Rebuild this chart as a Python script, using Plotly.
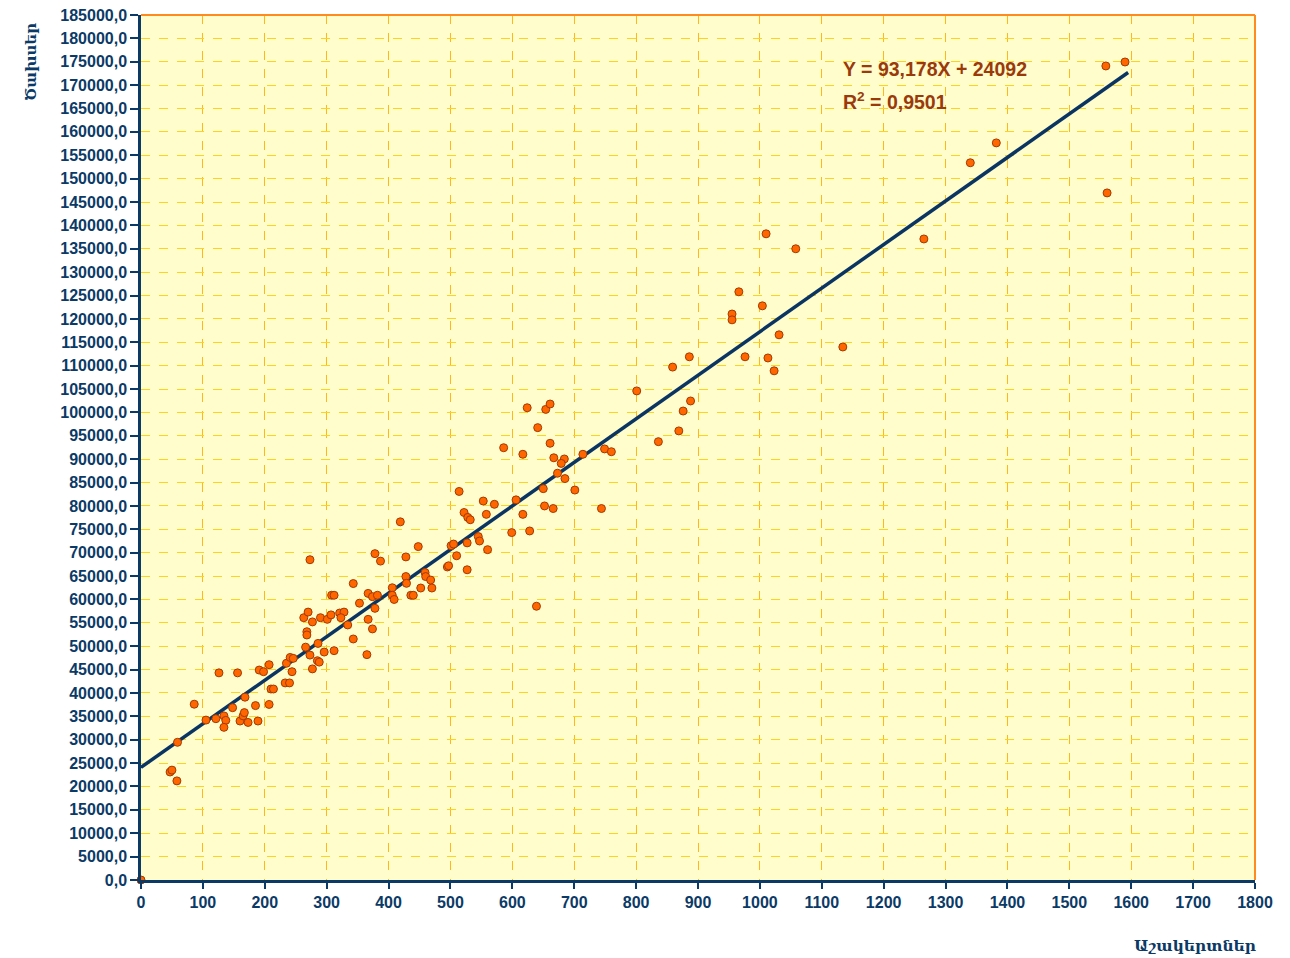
import plotly.graph_objects as go

# Students (x) and costs (y)
students = [0, 47, 50, 58, 59, 86, 105, 121, 126, 134, 137, 134, 148, 156, 160, 165, 167, 168, 173, 185,
            189, 191, 198, 207, 207, 210, 214, 233, 240, 235, 241, 246, 244, 266, 273, 277, 285, 288, 296, 312,
            286, 273, 263, 270, 277, 268, 268, 290, 301, 307, 321, 328, 323, 308, 312, 334, 343, 343, 353, 365,
            367, 374, 382, 378, 367, 374, 378, 387, 406, 406, 409, 428, 428, 429, 448, 436, 440, 452, 459, 460,
            468, 470, 495, 497, 501, 505, 510, 527, 527, 545, 547, 419, 624, 654, 661, 641, 586, 617, 661, 667,
            684, 679, 673, 685, 714, 749, 760, 836, 514, 650, 701, 553, 571, 606, 652, 666, 744, 558, 617, 522,
            528, 532, 599, 628, 560, 639,
            801, 859, 886, 876, 869, 888, 955, 955, 966, 976, 1004, 1010, 1013, 1023, 1031, 1058, 1134, 1265,
            1340, 1382, 1561, 1559, 1590]
costs = [0, 23100, 23500, 21200, 29450, 37600, 34200, 34500, 44300, 35100, 34150, 32650, 36850, 44300, 34000,
         35100, 35800, 39100, 33700, 37300, 34000, 44900, 44550, 46050, 37550, 40850, 40850, 42150, 42150, 46350,
         47600, 47400, 44550, 49800, 48100, 45150, 46900, 46600, 48750, 49050, 50600, 68500, 56100, 57300, 55200,
         53100, 52400, 56100, 55750, 56700, 57100, 57300, 56100, 60900, 60900, 54550, 51550, 63400, 59200, 48200,
         61300, 60600, 60900, 58100, 55750, 53700, 69800, 68200, 62500, 60900, 60000, 69100, 64900, 63450, 71300,
         60900, 60900, 62450, 65750, 64900, 64150, 62450, 66950, 67200, 71500, 71850, 69350, 66350, 72100, 73450,
         72500, 76600, 101000, 100650, 101800, 96750, 92450, 91050, 93400, 90300, 90050, 89100, 87000, 85850,
         91050, 92200, 91600, 93750, 83100, 83700, 83400, 81050, 80350, 81300, 80000, 79450, 79450, 78200, 78200,
         78600, 77550, 77050, 74300, 74650, 70650, 58550,
         104600, 109700, 111900, 100300, 96050, 102450, 121050, 119800, 125800, 111900, 122800, 138200, 111650,
         108900, 116600, 135000, 114000, 137100, 153400, 157650, 146950, 174100, 174950]

slope = 93.178
intercept = 24092
trend_x = [0, 1595]
trend_y = [slope * v + intercept for v in trend_x]

x_ticks = list(range(0, 1801, 100))
y_ticks = list(range(0, 185001, 5000))
y_ticktext = [f"{v},0" for v in y_ticks]

navy = "#0B3A66"
fig = go.Figure()
fig.add_trace(go.Scatter(x=trend_x, y=trend_y, mode="lines",
                         line=dict(color="#0A3563", width=3.5), hoverinfo="skip", showlegend=False))
fig.add_trace(go.Scatter(x=students, y=costs, mode="markers", cliponaxis=False,
                         marker=dict(size=8, color="#FF6600", line=dict(color="#A33A00", width=1)),
                         showlegend=False))

tick_font = dict(family="Liberation Sans, Arial, sans-serif", size=16, color=navy, weight="bold")
fig.update_layout(
    width=1290, height=958,
    margin=dict(l=141, r=35, t=15, b=78, autoexpand=False),
    paper_bgcolor="white",
    plot_bgcolor="#FFFDCC",
    xaxis=dict(range=[0, 1800], tickvals=x_ticks, ticktext=[str(v) for v in x_ticks],
               showgrid=True, gridcolor="#FFB81C", griddash="dash", gridwidth=1, automargin=False,
               showline=True, linecolor=navy, linewidth=2.5, ticks="outside", ticklen=6,
               tickcolor=navy, tickwidth=2, tickfont=tick_font, zeroline=False),
    yaxis=dict(range=[0, 185000], tickvals=y_ticks, ticktext=y_ticktext, automargin=False,
               showgrid=True, gridcolor="#FFD21F", griddash="dash", gridwidth=1,
               showline=True, linecolor=navy, linewidth=2.5, ticks="outside", ticklen=8,
               tickcolor=navy, tickwidth=2, tickfont=tick_font, zeroline=False),
    shapes=[
        dict(type="line", xref="paper", yref="paper", x0=0, x1=1, y0=1, y1=1,
             line=dict(color="#FF8A1F", width=2)),
        dict(type="line", xref="paper", yref="paper", x0=1, x1=1, y0=0, y1=1,
             line=dict(color="#FF8A1F", width=2)),
    ],
    annotations=[
        dict(text="Y = 93,178X + 24092", xref="paper", yref="paper", x=(841 - 141) / 1114,
             y=(880 - 69) / 865, xanchor="left", yanchor="middle", showarrow=False,
             font=dict(family="Liberation Sans, Arial, sans-serif", size=19.5, color="#9A3A0A", weight="bold")),
        dict(text="R<sup>2</sup> = 0,9501", xref="paper", yref="paper", x=(841 - 141) / 1114,
             y=(880 - 101) / 865, xanchor="left", yanchor="middle", showarrow=False,
             font=dict(family="Liberation Sans, Arial, sans-serif", size=19.5, color="#9A3A0A", weight="bold")),
        dict(text="Ծախսեր", xref="paper", yref="paper", x=(31 - 141) / 1114, y=(880 - 62) / 865,
             xanchor="center", yanchor="middle", textangle=-90, showarrow=False,
             font=dict(family="DejaVu Serif, serif", size=15, color=navy, weight="bold")),
        dict(text="Աշակերտներ", xref="paper", yref="paper", x=(1258 - 141) / 1114, y=(880 - 945) / 865,
             xanchor="right", yanchor="middle", showarrow=False,
             font=dict(family="DejaVu Serif, serif", size=15.5, color=navy, weight="bold")),
    ],
)

fig.write_html("out.html")
